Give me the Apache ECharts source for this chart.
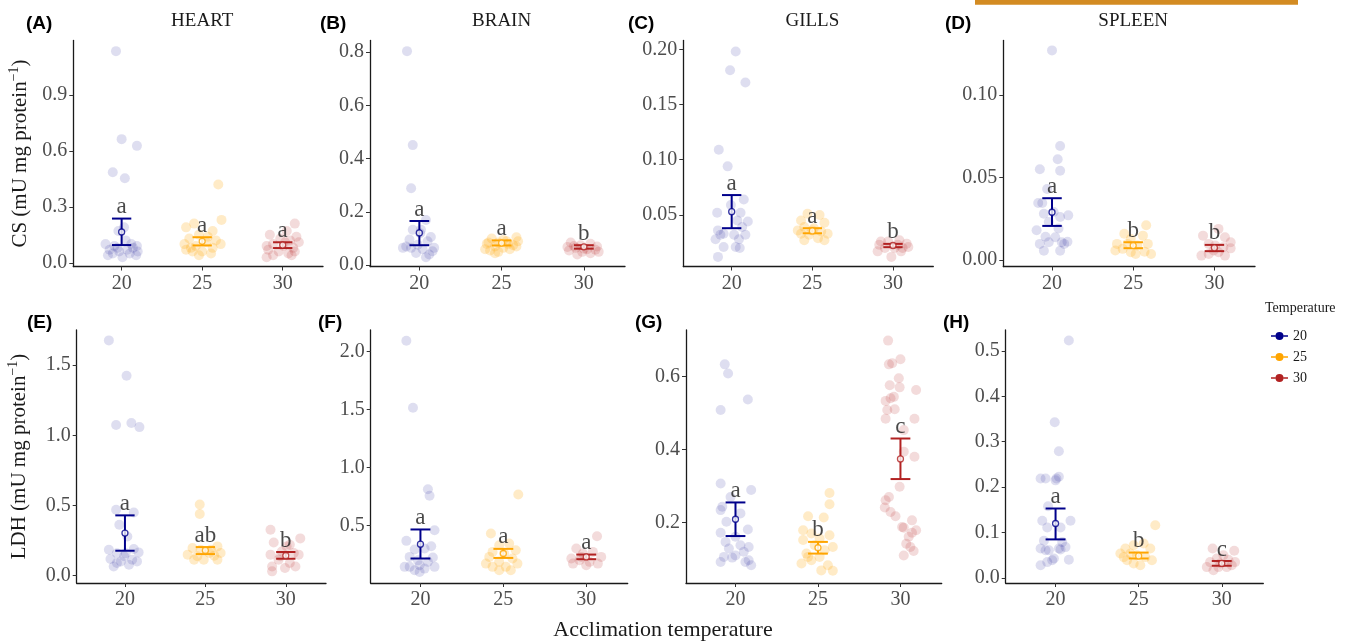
<!DOCTYPE html>
<html><head><meta charset="utf-8">
<script src="https://cdn.jsdelivr.net/npm/echarts@6/dist/echarts.min.js"></script>
<style>html,body{margin:0;padding:0;background:#fff}#c{width:1350px;height:644px}</style>
</head><body><div id="c"></div>
<script>
// ---------- DATA ----------
const temps = ['20', '25', '30'];
const colors = ['#00008B', '#FFA500', '#B22222'];
const organs = ['HEART', 'BRAIN', 'GILLS', 'SPLEEN'];
const panelTags = ['(A)', '(B)', '(C)', '(D)', '(E)', '(F)', '(G)', '(H)'];

// each point: [jitter offset from group centre, value]
// (A) HEART CS
const A20 = [[-.07,1.135],[0,.663],[.19,.627],[-.11,.485],[.04,.453],[.03,.19],[-.04,.17],[-.2,.10],[-.09,.09],[.14,.08],[-.15,.07],[-.03,.06],[.1,.05],[-.17,.04],[.18,.04],[.12,.10],[.05,.12],[-.05,.08],[.2,.06],[-.11,.05],[.01,.03],[.07,.07],[.19,.09]];
const A25 = [[.2,.42],[.24,.23],[-.1,.21],[-.2,.19],[.13,.17],[-.04,.15],[-.16,.13],[.17,.12],[.05,.11],[-.22,.10],[-.08,.09],[.13,.08],[-.2,.07],[0,.06],[.11,.05],[-.12,.06],[-.04,.04],[.23,.10],[.07,.14],[-.14,.08]];
const A30 = [[.15,.21],[.05,.17],[-.16,.15],[-.03,.13],[.09,.12],[.2,.11],[-.12,.10],[.01,.09],[.13,.08],[-.18,.07],[-.05,.06],[.07,.05],[-.12,.04],[-.2,.03],[.15,.06],[-.2,.09],[.03,.11],[.11,.04],[.17,.14]];
const Amean = [.165,.115,.095], Alo = [.095,.093,.079], Ahi = [.237,.137,.11], Alet = ['a','a','a'];
const Aticks = [0,0.3,0.6,0.9];
// (B) BRAIN CS
const B20 = [[-.15,.804],[-.08,.451],[-.1,.289],[.08,.17],[-.08,.133],[.02,.133],[.14,.106],[-.12,.096],[.1,.09],[-.2,.065],[-.1,.065],[-.02,.077],[.04,.06],[.16,.052],[-.16,.07],[.12,.04],[-.04,.046],[.08,.03],[.18,.065],[.01,.12]];
const B25 = [[.18,.105],[-.12,.10],[.06,.09],[-.04,.085],[-.18,.08],[.14,.075],[-.08,.07],[.02,.065],[.1,.06],[-.14,.055],[-.04,.05],[.2,.09],[-.16,.085],[.18,.07],[.02,.095],[-.2,.06],[.08,.08],[-.08,.045]];
const B30 = [[-.16,.085],[.08,.08],[-.04,.075],[.16,.07],[-.2,.068],[-.1,.065],[.04,.06],[.14,.058],[-.18,.055],[-.02,.05],[.08,.045],[.18,.05],[0,.062],[-.12,.072],[-.08,.04]];
const Bmean = [.121,.083,.069], Blo = [.075,.074,.062], Bhi = [.166,.093,.075], Blet = ['a','a','b'];
const Bticks = [0,0.2,0.4,0.6,0.8];
// (C) GILLS CS
const C20 = [[.05,.198],[-.02,.181],[.17,.170],[-.16,.109],[-.05,.094],[.15,.064],[-.18,.052],[-.01,.059],[.2,.044],[.07,.045],[-.17,.036],[-.1,.033],[.03,.032],[.13,.039],[.17,.032],[-.2,.028],[.09,.028],[.05,.021],[-.1,.021],[.1,.020],[-.17,.012],[.11,.052],[-.14,.032]];
const C25 = [[-.06,.051],[.09,.05],[-.14,.045],[.15,.043],[-.1,.039],[.02,.038],[.11,.035],[-.14,.033],[-.04,.032],[.19,.033],[.07,.029],[-.1,.027],[.15,.027],[0,.036],[-.18,.036]];
const C30 = [[-.17,.023],[-.06,.026],[.08,.027],[.17,.024],[-.1,.02],[.02,.02],[.12,.02],[-.02,.012],[-.19,.017],[.19,.021],[.06,.023],[-.15,.026],[.1,.017]];
const Cmean = [.053,.0355,.0223], Clo = [.038,.0334,.0208], Chi = [.068,.038,.0238], Clet = ['a','a','b'];
const Cticks = [0.05,0.10,0.15,0.20];
// (D) SPLEEN CS
const D20 = [[0,.127],[.1,.069],[.07,.061],[-.15,.055],[.1,.054],[-.06,.043],[-.17,.0345],[-.12,.0345],[.2,.027],[-.1,.028],[.02,.029],[.1,.026],[-.04,.023],[-.19,.018],[.08,.019],[-.08,.014],[.04,.0137],[.15,.0097],[-.15,.0097],[-.04,.0107],[.19,.011],[-.1,.0055],[.1,.0055],[.12,.0107]];
const D25 = [[.16,.021],[-.11,.0158],[.12,.0147],[-.2,.0097],[-.03,.0127],[.05,.0087],[.18,.0097],[-.13,.0067],[-.03,.0046],[.14,.005],[-.22,.0057],[.03,.0036],[.22,.0036],[-.07,.0097]];
const D30 = [[-.14,.0147],[.05,.0188],[.13,.0137],[.2,.0107],[-.07,.0097],[.01,.0087],[.11,.0077],[-.16,.0026],[-.07,.0036],[.05,.0046],[.2,.007],[.13,.0026],[-.01,.0057]];
const Dmean = [.0289,.0087,.0073], Dlo = [.0206,.0071,.0053], Dhi = [.0374,.0107,.0091], Dlet = ['a','b','b'];
const Dticks = [0,0.05,0.10];
// (E) HEART LDH
const E20 = [[-.2,1.677],[.02,1.425],[-.11,1.074],[.08,1.088],[.18,1.059],[-.11,.47],[.11,.451],[-.07,.363],[.03,.28],[-.2,.185],[.11,.19],[-.1,.16],[.17,.166],[-.18,.119],[-.01,.138],[.09,.114],[-.1,.09],[.05,.078],[-.14,.066],[.15,.102],[-.05,.102],[.01,.16]];
const E25 = [[-.07,.508],[-.07,.44],[-.16,.197],[.15,.209],[-.06,.185],[.05,.162],[-.22,.15],[-.1,.138],[.11,.143],[.19,.162],[-.02,.114],[-.14,.114],[.15,.114],[.07,.185]];
const E30 = [[-.19,.328],[.18,.266],[-.15,.237],[.01,.209],[-.05,.173],[.1,.162],[.16,.15],[-.19,.15],[-.09,.114],[.05,.09],[-.17,.066],[-.01,.055],[.12,.066],[-.17,.031],[-.07,.138],[.05,.221]];
const Emean = [.304,.18,.143], Elo = [.178,.154,.121], Ehi = [.43,.204,.169], Elet = ['a','ab','b'];
const Eticks = [0,0.5,1.0,1.5];
// (F) BRAIN LDH
const F20 = [[-.17,2.092],[-.09,1.514],[.09,.813],[.11,.756],[.17,.46],[-.17,.368],[.13,.322],[-.07,.293],[.05,.302],[-.13,.23],[.15,.224],[-.03,.2],[.09,.187],[-.19,.144],[-.13,.144],[-.01,.158],[.17,.144],[-.07,.115],[.05,.129],[-.01,.1]];
const F25 = [[.18,.767],[-.15,.431],[.07,.345],[-.05,.33],[-.13,.273],[.15,.287],[.01,.259],[-.17,.23],[.11,.216],[-.05,.187],[.17,.172],[-.13,.144],[.03,.144],[-.05,.115],[.09,.115],[-.21,.172]];
const F30 = [[.13,.408],[-.12,.302],[.08,.273],[-.04,.259],[.18,.23],[-.18,.216],[-.08,.201],[.04,.187],[.14,.172],[-.16,.172],[0,.158],[-.06,.23]];
const Fmean = [.339,.259,.23], Flo = [.216,.221,.21], Fhi = [.466,.299,.25], Flet = ['a','a','a'];
const Fticks = [0.5,1.0,1.5,2.0];
// (G) GILLS LDH
const G20 = [[-.13,.633],[-.09,.608],[.15,.537],[-.18,.508],[-.18,.307],[.19,.289],[-.06,.27],[-.16,.243],[-.18,.234],[.06,.225],[-.11,.202],[.15,.181],[-.18,.172],[0,.161],[-.12,.147],[.06,.138],[.16,.133],[-.08,.129],[.1,.12],[0,.11],[-.14,.106],[-.04,.104],[.16,.097],[-.18,.092],[.12,.092],[.19,.083]];
const G25 = [[.14,.281],[.14,.25],[-.12,.217],[.07,.214],[-.18,.179],[-.08,.17],[.14,.165],[.02,.156],[-.18,.152],[.18,.133],[-.04,.138],[-.14,.115],[.08,.124],[.02,.106],[-.08,.097],[-.2,.088],[.12,.083],[.04,.069],[.18,.068],[-.12,.106]];
const G30 = [[-.15,.698],[-.14,.633],[0,.647],[-.1,.636],[-.02,.595],[-.13,.576],[-.01,.57],[.19,.563],[-.08,.544],[-.18,.533],[-.12,.54],[-.07,.51],[-.16,.508],[-.18,.484],[.17,.484],[.04,.453],[.04,.394],[.17,.38],[-.01,.298],[-.14,.27],[-.18,.261],[-.19,.241],[-.12,.229],[-.06,.217],[.14,.206],[.02,.188],[.04,.186],[.14,.172],[.19,.179],[.1,.161],[.12,.133],[.07,.142],[.16,.122],[.04,.11]];
const Gmean = [.209,.131,.374], Glo = [.163,.115,.319], Ghi = [.255,.147,.43], Glet = ['a','b','c'];
const Gticks = [0.2,0.4,0.6];
// (H) SPLEEN LDH
const H20 = [[.16,.523],[-.01,.343],[.04,.279],[-.18,.219],[-.12,.219],[.01,.219],[.04,.223],[0,.215],[-.09,.158],[.18,.126],[-.16,.126],[-.1,.111],[.06,.111],[-.14,.082],[.08,.079],[-.18,.065],[-.08,.061],[.04,.065],[.12,.068],[-.12,.061],[.06,.063],[-.02,.043],[.16,.04],[-.18,.028],[-.1,.035],[-.04,.039]];
const H25 = [[.2,.116],[-.16,.065],[.06,.076],[-.06,.072],[.14,.065],[-.1,.054],[-.22,.054],[-.02,.05],[.08,.046],[.16,.039],[-.14,.039],[-.06,.032],[.02,.028],[-.18,.046]];
const H30 = [[-.11,.065],[.15,.06],[.02,.05],[-.06,.043],[.08,.04],[.16,.035],[-.14,.035],[-.02,.032],[-.18,.024],[-.1,.017],[.06,.024],[.12,.028],[-.04,.024]];
const Hmean = [.12,.0485,.032], Hlo = [.085,.043,.027], Hhi = [.153,.056,.0375], Hlet = ['a','b','c'];
const Hticks = [0,0.1,0.2,0.3,0.4,0.5];

// ---------- LAYOUT ----------
const panels = [
  {pts:[A20,A25,A30], mean:Amean, lo:Alo, hi:Ahi, let:Alet, ticks:Aticks, dec:1, ymin:-0.02, ymax:1.192, g:[73.3,40.5,249.7,226]},
  {pts:[B20,B25,B30], mean:Bmean, lo:Blo, hi:Bhi, let:Blet, ticks:Bticks, dec:1, ymin:-0.005, ymax:0.844, g:[370,40.5,255,226]},
  {pts:[C20,C25,C30], mean:Cmean, lo:Clo, hi:Chi, let:Clet, ticks:Cticks, dec:2, ymin:0.0033, ymax:0.208, g:[683.3,40.5,250,226]},
  {pts:[D20,D25,D30], mean:Dmean, lo:Dlo, hi:Dhi, let:Dlet, ticks:Dticks, dec:2, ymin:-0.004, ymax:0.133, g:[1003.3,40.5,251.7,226]},
  {pts:[E20,E25,E30], mean:Emean, lo:Elo, hi:Ehi, let:Elet, ticks:Eticks, dec:1, ymin:-0.052, ymax:1.751, g:[76.7,330,249.3,253]},
  {pts:[F20,F25,F30], mean:Fmean, lo:Flo, hi:Fhi, let:Flet, ticks:Fticks, dec:1, ymin:0.005, ymax:2.184, g:[370.7,330,257,253]},
  {pts:[G20,G25,G30], mean:Gmean, lo:Glo, hi:Ghi, let:Glet, ticks:Gticks, dec:1, ymin:0.0345, ymax:0.727, g:[686,330,255.7,253]},
  {pts:[H20,H25,H30], mean:Hmean, lo:Hlo, hi:Hhi, let:Hlet, ticks:Hticks, dec:1, ymin:-0.011, ymax:0.546, g:[1005.7,330,257.6,253]}
];
const tagPos = [[26,24],[320,24],[628,24],[945,24],[27,323],[318,323],[635,323],[943,323]];

const serif = "'Liberation Serif','Times New Roman',serif";
const sans = "'Liberation Sans',Arial,sans-serif";
const pointAlpha = [0.13, 0.22, 0.16];

const grid = [], xAxis = [], yAxis = [], series = [];
panels.forEach((p, i) => {
  grid.push({left:p.g[0], top:p.g[1], width:p.g[2], height:p.g[3], containLabel:false});
  xAxis.push({
    type:'value', gridIndex:i, min:0.4, max:3.5,
    splitLine:{show:false},
    axisLine:{show:true, onZero:false, lineStyle:{color:'#1a1a1a', width:1.3}},
    axisTick:{show:true, length:4, customValues:[1,2,3], lineStyle:{color:'#333'}},
    axisLabel:{customValues:[1,2,3], formatter:v => temps[Math.round(v)-1], margin:7,
      fontFamily:serif, fontSize:20, color:'#4d4d4d'}
  });
  const ya = {
    type:'value', gridIndex:i, min:p.ymin, max:p.ymax,
    splitLine:{show:false},
    axisLine:{show:true, onZero:false, lineStyle:{color:'#1a1a1a', width:1.3}},
    axisTick:{show:true, length:4, customValues:p.ticks, lineStyle:{color:'#333'}},
    axisLabel:{customValues:p.ticks, formatter:v => v.toFixed(p.dec), margin:6,
      fontFamily:serif, fontSize:20, color:'#4d4d4d'}
  };
  if (i === 0 || i === 4) {
    ya.name = '{n|' + (i === 0 ? 'CS' : 'LDH') + ' (mU mg protein}{s|\u22121}{n|)}';
    ya.nameLocation = 'middle';
    ya.nameGap = i === 0 ? 40 : 44;
    ya.nameTextStyle = {rich:{
      n:{fontFamily:serif, fontSize:21, color:'#1a1a1a', lineHeight:26},
      s:{fontFamily:serif, fontSize:14, color:'#1a1a1a', verticalAlign:'top', lineHeight:26}
    }};
  }
  yAxis.push(ya);
  // jittered raw points
  p.pts.forEach((arr, k) => {
    series.push({
      name:temps[k], type:'scatter', xAxisIndex:i, yAxisIndex:i,
      data:arr.map(d => [k + 1 + d[0], d[1]]),
      symbolSize:10, z:2, silent:true,
      itemStyle:{color:colors[k], opacity:pointAlpha[k]}
    });
  });
  // error bars
  series.push({
    type:'custom', xAxisIndex:i, yAxisIndex:i, z:3, silent:true,
    data:p.mean.map((m, k) => [k + 1, p.lo[k], p.hi[k], k]),
    renderItem:(params, api) => {
      const x = api.value(0), k = api.value(3);
      const top = api.coord([x, api.value(2)]);
      const bot = api.coord([x, api.value(1)]);
      const hw = api.size([0.12, 0])[0];
      const st = {stroke:colors[k], lineWidth:2};
      return {type:'group', children:[
        {type:'line', shape:{x1:top[0], y1:top[1], x2:bot[0], y2:bot[1]}, style:st},
        {type:'line', shape:{x1:top[0]-hw, y1:top[1], x2:top[0]+hw, y2:top[1]}, style:st},
        {type:'line', shape:{x1:bot[0]-hw, y1:bot[1], x2:bot[0]+hw, y2:bot[1]}, style:st}
      ]};
    }
  });
  // means
  series.push({
    type:'scatter', xAxisIndex:i, yAxisIndex:i, z:4, silent:true, symbolSize:6,
    data:p.mean.map((m, k) => ({value:[k + 1, m], itemStyle:{color:'#fff', borderColor:colors[k], borderWidth:1.3}}))
  });
  // letters
  series.push({
    type:'scatter', xAxisIndex:i, yAxisIndex:i, z:5, silent:true, symbolSize:0,
    data:p.hi.map((h, k) => [k + 1, h, p.let[k]]),
    label:{show:true, position:'top', distance:0, formatter:q => q.value[2],
      fontFamily:serif, fontSize:23, color:'#1a1a1a'}
  });
});

const graphic = [
  {type:'rect', shape:{x:975, y:0, width:323, height:4.7}, style:{fill:'#D38B22'}},
  {type:'text', x:663, y:630, style:{text:'Acclimation temperature', font:'22px ' + serif, fill:'#1a1a1a', textAlign:'center', textVerticalAlign:'middle'}},
  {type:'text', x:1265, y:308, style:{text:'Temperature', font:'14px ' + serif, fill:'#1a1a1a', textAlign:'left', textVerticalAlign:'middle'}}
];
panelTags.forEach((t, i) => graphic.push({type:'text', x:tagPos[i][0], y:tagPos[i][1],
  style:{text:t, font:'bold 19px ' + sans, fill:'#000', textAlign:'left', textVerticalAlign:'middle'}}));
organs.forEach((o, i) => {
  const p = panels[i];
  graphic.push({type:'text', x:p.g[0] + p.g[2] * (1.6 / 3.1), y:21,
    style:{text:o, font:'19px ' + serif, fill:'#1a1a1a', textAlign:'center', textVerticalAlign:'middle'}});
});

const legendIcon = 'path://M0,3.2L4.5,3.2L4.5,4.8L0,4.8Z M12.5,3.2L17,3.2L17,4.8L12.5,4.8Z M12.5,4A4,4 0 1 1 4.5,4A4,4 0 1 1 12.5,4Z';

const option = {
  animation:false,
  grid, xAxis, yAxis, series, graphic,
  legend:{
    orient:'vertical', left:1266, top:324, itemWidth:17, itemHeight:8, itemGap:7,
    selectedMode:false,
    textStyle:{fontFamily:serif, fontSize:14, color:'#1a1a1a'},
    data:temps.map((t, k) => ({name:t, icon:legendIcon, itemStyle:{color:colors[k], opacity:1}}))
  }
};
const chart = echarts.init(document.getElementById('c'), null, {renderer:'canvas'});
chart.setOption(option);
</script></body></html>
